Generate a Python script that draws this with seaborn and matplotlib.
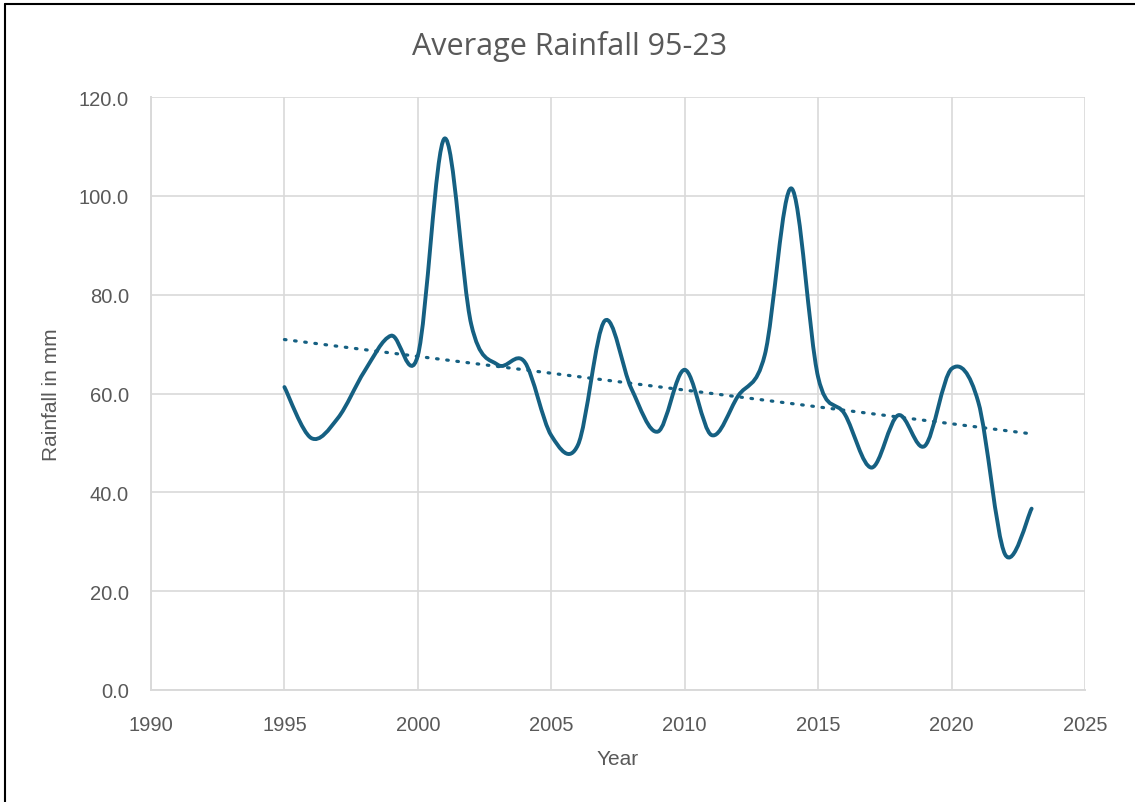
import numpy as np
import pandas as pd
import matplotlib
matplotlib.use('Agg')
import matplotlib.pyplot as plt
import seaborn as sns
from matplotlib.path import Path
from matplotlib.patches import PathPatch
from matplotlib.lines import Line2D

# Yearly average rainfall (mm)
years = list(range(1995, 2024))
rainfall = [61.3, 51.0, 55.0, 64.5, 71.7, 67.7, 111.6, 74.0, 65.8, 66.4,
            51.5, 49.6, 74.7, 61.0, 52.3, 64.8, 51.6, 59.5, 67.8, 101.5,
            63.3, 55.8, 45.0, 55.6, 49.4, 65.0, 58.3, 27.5, 36.7]

x_ticks = list(range(1990, 2030, 5))
y_ticks = list(range(0, 140, 20))

LINE = '#156082'
TEXT = '#595959'
GRID = '#d9d9d9'

df = pd.DataFrame({'Year': years, 'Rainfall': rainfall})

sns.set_theme(style='white')
plt.rcParams['font.family'] = ['Liberation Sans', 'DejaVu Sans']

fig = plt.figure(figsize=(11.35, 8.03), dpi=100)
ax = fig.add_axes([151 / 1135, 1 - 691 / 803, (1085 - 151) / 1135, (691 - 98) / 803])

# linear trend, dotted
sns.regplot(data=df, x='Year', y='Rainfall', ax=ax, scatter=False, ci=None,
            line_kws={'color': LINE, 'lw': 2.3, 'linestyle': (0, (0.5, 2.7)),
                      'dash_capstyle': 'round', 'zorder': 3})

# smoothed line (Excel style Catmull-Rom Bezier through the points)
pts = np.column_stack([df['Year'].to_numpy(float), df['Rainfall'].to_numpy(float)])
ext = np.vstack([pts[0], pts, pts[-1]])
verts = [tuple(pts[0])]
codes = [Path.MOVETO]
for i in range(1, len(ext) - 2):
    p0, p1, p2, p3 = ext[i - 1], ext[i], ext[i + 1], ext[i + 2]
    c1 = p1 + (p2 - p0) / 6
    c2 = p2 - (p3 - p1) / 6
    verts += [tuple(c1), tuple(c2), tuple(p2)]
    codes += [Path.CURVE4] * 3
ax.add_patch(PathPatch(Path(verts, codes), facecolor='none', edgecolor=LINE,
                       lw=2.8, capstyle='round', joinstyle='round', zorder=4))

ax.set_xlim(1990, 2025)
ax.set_ylim(0, 120)
ax.set_xticks(x_ticks)
ax.set_yticks(y_ticks)
ax.set_yticklabels([f'{v:.1f}' for v in y_ticks])
ax.grid(True, color=GRID, lw=1.2)
ax.set_axisbelow(True)
for side in ['top', 'right']:
    ax.spines[side].set_visible(False)
for side in ['left', 'bottom']:
    ax.spines[side].set_color(GRID)
    ax.spines[side].set_linewidth(1.4)
ax.tick_params(axis='both', length=0, labelsize=14.5, labelcolor=TEXT)
ax.tick_params(axis='x', pad=18)
ax.tick_params(axis='y', pad=16)

ax.set_xlabel('Year', fontsize=15, color=TEXT, labelpad=11)
ax.set_ylabel('Rainfall in mm', fontsize=15, color=TEXT, labelpad=13)
fig.text(570 / 1135, 1 - 46 / 803, 'Average Rainfall 95-23', ha='center', va='center',
         fontsize=22, color=TEXT, family=['Open Sans', 'DejaVu Sans'])

# chart frame (left and top edges visible)
fig.add_artist(Line2D([5 / 1135, 5 / 1135], [0, 1 - 5 / 803], color='black', lw=1.5,
                      transform=fig.transFigure))
fig.add_artist(Line2D([5 / 1135, 1], [1 - 5 / 803, 1 - 5 / 803], color='black', lw=1.5,
                      transform=fig.transFigure))

fig.savefig('out.png', dpi=100)
plt.close(fig)
